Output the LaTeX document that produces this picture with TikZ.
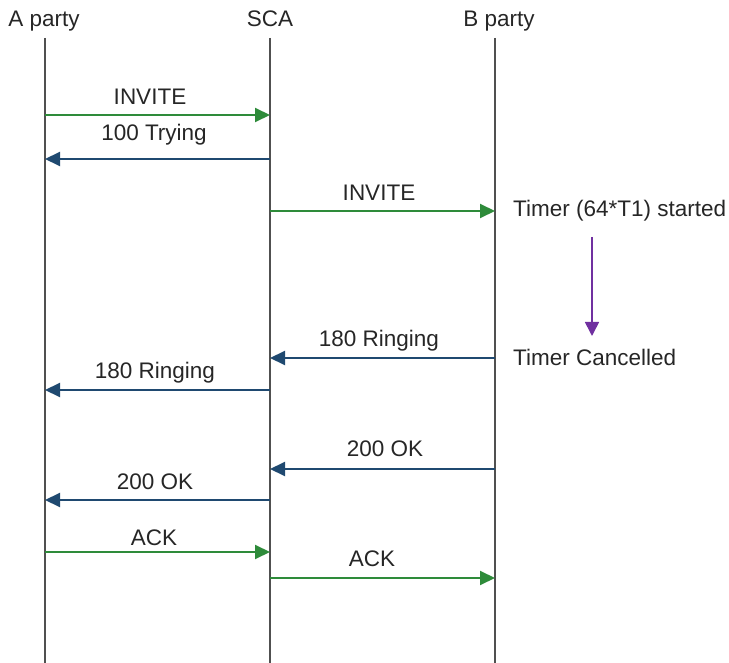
\documentclass[tikz,border=0pt]{standalone}
\usepackage{fontspec}
\setmainfont{Liberation Sans}
\usetikzlibrary{arrows.meta}
\definecolor{greenmsg}{RGB}{46,139,58}
\definecolor{bluemsg}{RGB}{31,73,112}
\definecolor{lifeline}{RGB}{80,80,80}
\definecolor{purplearr}{RGB}{112,48,160}
\begin{document}
\begin{tikzpicture}[x=1pt,y=-1pt,
  every node/.style={font=\fontsize{22.5}{26}\selectfont, text=black!85, inner sep=0pt},
  life/.style={draw=lifeline, line width=1.6pt},
  req/.style={draw=greenmsg, line width=2pt, -{Triangle[length=15pt,width=14pt]}},
  resp/.style={draw=bluemsg, line width=2pt, -{Triangle[length=15pt,width=14pt]}},
  timer/.style={draw=purplearr, line width=1.6pt, -{Triangle[length=14pt,width=14pt]}},
  lbl/.style={anchor=base}]
\useasboundingbox (0,0) rectangle (729,663);
% headers
\node[lbl] (ha) at (44,27) {A party};
\node[lbl] (hs) at (270,27) {SCA};
\node[lbl] (hb) at (499,27) {B party};
% lifelines
\coordinate (at) at (45,38); \coordinate (ab) at (45,663);
\coordinate (st) at (270,38); \coordinate (sb) at (270,663);
\coordinate (bt) at (495,38); \coordinate (bb) at (495,663);
\draw[life] (at) -- (ab);
\draw[life] (st) -- (sb);
\draw[life] (bt) -- (bb);
% message anchors
\coordinate (a1) at (45,115); \coordinate (s1) at (270,115);
\coordinate (s2) at (270,159); \coordinate (a2) at (45,159);
\coordinate (s3) at (270,211); \coordinate (b3) at (495,211);
\coordinate (b4) at (495,358); \coordinate (s4) at (270,358);
\coordinate (s5) at (270,390); \coordinate (a5) at (45,390);
\coordinate (b6) at (495,469); \coordinate (s6) at (270,469);
\coordinate (s7) at (270,500); \coordinate (a7) at (45,500);
\coordinate (a8) at (45,552); \coordinate (s8) at (270,552);
\coordinate (s9) at (270,578); \coordinate (b9) at (495,578);
% messages
\draw[req] (a1) -- (s1);
\node[lbl] (l1) at (150,105) {INVITE};
\draw[resp] (s2) -- (a2);
\node[lbl] (l2) at (154,141) {100 Trying};
\draw[req] (s3) -- (b3);
\node[lbl] (l3) at (379,201) {INVITE};
\draw[resp] (b4) -- (s4);
\node[lbl] (l4) at (379,347) {180 Ringing};
\draw[resp] (s5) -- (a5);
\node[lbl] (l5) at (155,378) {180 Ringing};
\draw[resp] (b6) -- (s6);
\node[lbl] (l6) at (385,456) {200 OK};
\draw[resp] (s7) -- (a7);
\node[lbl] (l7) at (155,489) {200 OK};
\draw[req] (a8) -- (s8);
\node[lbl] (l8) at (154,545) {ACK};
\draw[req] (s9) -- (b9);
\node[lbl] (l9) at (372,566) {ACK};
% timer
\node[anchor=west] (t1) at (513,211) {Timer (64*T1) started};
\node[anchor=west] (t2) at (513,357) {Timer Cancelled};
\coordinate (ts) at (592,237); \coordinate (te) at (592,336);
\draw[timer] (ts) -- (te);
\end{tikzpicture}
\end{document}
